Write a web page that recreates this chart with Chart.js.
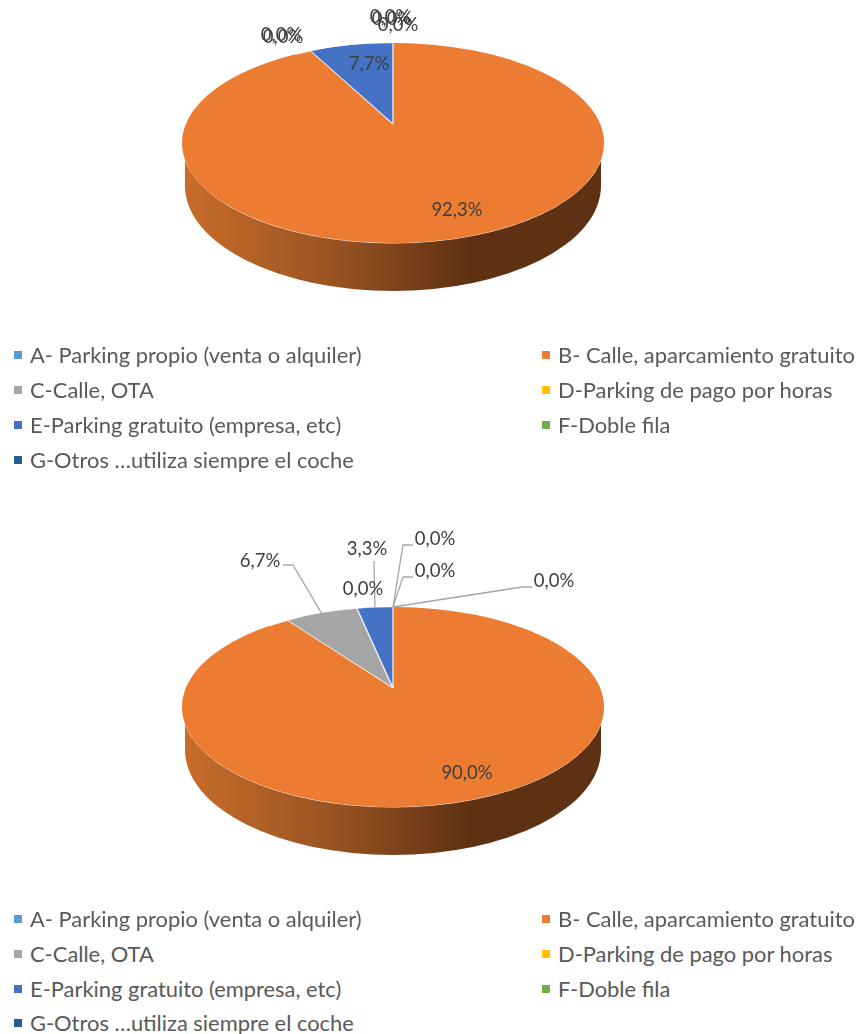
<!DOCTYPE html>
<html>
<head>
<meta charset="utf-8">
<title>Parking</title>
<script src="https://cdn.jsdelivr.net/npm/chart.js@4/dist/chart.umd.min.js"></script>
<style>
	html, body { margin: 0; padding: 0; background: #fff; }
	body { position: relative; width: 857px; height: 1034px; overflow: hidden; font-family: Lato, sans-serif; color: #595959; }
	canvas { position: absolute; left: 0; }
	#pie1 { top: 0; }
	#pie2 { top: 500px; }
	.legend-item { position: absolute; font-size: 21.9px; line-height: 24px; white-space: nowrap; }
	.legend-item i { position: absolute; left: -16px; top: 8px; width: 8px; height: 8px; }
</style>
</head>
<body>
<canvas id="pie1" width="857" height="420"></canvas>
<canvas id="pie2" width="857" height="420"></canvas>
<div id="legends"></div>
<script>
var categories = [
	'A- Parking propio (venta o alquiler)',
	'B- Calle, aparcamiento gratuito',
	'C-Calle, OTA',
	'D-Parking de pago por horas',
	'E-Parking gratuito (empresa, etc)',
	'F-Doble fila',
	'G-Otros \u2026utiliza siempre el coche'
];
var colors = ['#5b9bd5', '#eb7c31', '#a5a5a5', '#ffc000', '#4472c4', '#70ad47', '#255e91'];

var valuesTop = [0, 92.3, 0, 0, 7.7, 0, 0];
var valuesBottom = [0, 90.0, 6.7, 0, 3.3, 0, 0];

// posicion de las etiquetas respecto al centro de la elipse
var labelOffsetsTop = [[5, -118], [64, 67], [-112, -108], [-110, -106], [-24, -79], [-3, -126], [-1, -124]];
var labelOffsetsBottom = [[161, -126], [74, 66], [-133, -146], [-30, -118], [-26, -158], [42, -136], [42, -168]];

// codos de las lineas guia (solo el segundo grafico)
var leadersBottom = [
	[[129, -120], [139, -120]],
	null,
	[[-100, -142], [-110, -142]],
	null,
	[[-19, -146]],
	[[10, -130], [20, -130]],
	[[10, -162], [20, -162]]
];

// forma de la tarta en pantalla
var RADIUS = 100, RX = 211, RY = 100, PERSPECTIVE = -0.19;
var WALL_RX = 208, WALL_RY = 105, WALL_DY = 43;

// lleva un angulo del circulo al borde de la elipse con perspectiva
function project(angle, cx, cy) {
	var u = Math.cos(angle), v = Math.sin(angle);
	var den = 1 + PERSPECTIVE * v;
	return {
		x: cx + RX * u * Math.sqrt(1 - PERSPECTIVE * PERSPECTIVE) / den,
		y: cy + RY * (v + PERSPECTIVE) / den
	};
}

function wrapArc(arc) {
	if (arc._wrapped) {
		return;
	}
	arc._wrapped = true;
	var baseDraw = arc.draw;
	arc.draw = function(ctx, area) {
		var x0 = this.x, y0 = this.y, s = this.startAngle, e = this.endAngle;
		ctx.save();
		if (e - s > Math.PI) {
			// la porcion grande cubre toda la elipse
			ctx.transform(RX / RADIUS, 0, 0, RY / RADIUS, x0 - x0 * RX / RADIUS, y0 - y0 * RY / RADIUS);
		} else if (e - s > 0) {
			var ax = x0, ay = y0 + PERSPECTIVE * RY;
			var p = project(s, x0, y0), q = project(e, x0, y0);
			var px = Math.cos(s) * RADIUS, py = Math.sin(s) * RADIUS;
			var qx = Math.cos(e) * RADIUS, qy = Math.sin(e) * RADIUS;
			var det = px * qy - qx * py;
			var m11 = ((p.x - ax) * qy - (q.x - ax) * py) / det;
			var m12 = ((q.x - ax) * px - (p.x - ax) * qx) / det;
			var m21 = ((p.y - ay) * qy - (q.y - ay) * py) / det;
			var m22 = ((q.y - ay) * px - (p.y - ay) * qx) / det;
			ctx.transform(m11, m21, m12, m22, ax - m11 * x0 - m12 * y0, ay - m21 * x0 - m22 * y0);
		}
		baseDraw.call(this, ctx, area);
		ctx.restore();
	};
}

var pie3d = {
	id: 'pie3d',
	afterDatasetsUpdate: function(chart) {
		chart.getDatasetMeta(0).data.forEach(wrapArc);
	},
	beforeDatasetsDraw: function(chart) {
		var ctx = chart.ctx, arc = chart.getDatasetMeta(0).data[0];
		var cx = arc.x, cy = arc.y;
		var big = chart.data.datasets[0].backgroundColor[1];

		// pared lateral
		var wall = ctx.createLinearGradient(cx - RX, 0, cx + RX, 0);
		wall.addColorStop(0, '#c96d2b');
		wall.addColorStop(0.35, '#9a5422');
		wall.addColorStop(0.68, '#5f3113');
		wall.addColorStop(1, '#5f3113');
		ctx.save();
		ctx.fillStyle = wall;
		ctx.beginPath();
		ctx.moveTo(cx - WALL_RX, cy);
		ctx.lineTo(cx - WALL_RX, cy + WALL_DY);
		ctx.ellipse(cx, cy + WALL_DY, WALL_RX, WALL_RY, 0, Math.PI, 0, true);
		ctx.lineTo(cx + WALL_RX, cy);
		ctx.closePath();
		ctx.fill();

		// tapa
		ctx.fillStyle = big;
		ctx.strokeStyle = 'rgba(255,255,255,0.85)';
		ctx.lineWidth = 1;
		ctx.beginPath();
		ctx.ellipse(cx, cy, RX, RY, 0, 0, Math.PI * 2);
		ctx.fill();
		ctx.stroke();
		ctx.restore();
	},
	afterDatasetsDraw: function(chart, args, opts) {
		var ctx = chart.ctx, meta = chart.getDatasetMeta(0);
		var values = chart.data.datasets[0].data;
		var cx = meta.data[0].x, cy = meta.data[0].y;
		ctx.save();

		// lineas guia
		ctx.strokeStyle = '#a6a6a6';
		ctx.lineWidth = 1.3;
		(opts.leaders || []).forEach(function(points, i) {
			if (!points) {
				return;
			}
			var arc = meta.data[i];
			var start = project((arc.startAngle + arc.endAngle) / 2, cx, cy);
			ctx.beginPath();
			ctx.moveTo(start.x, start.y);
			points.forEach(function(pt) {
				ctx.lineTo(cx + pt[0], cy + pt[1]);
			});
			ctx.stroke();
		});

		// etiquetas
		ctx.fillStyle = '#404040';
		ctx.font = '18.5px Lato';
		ctx.textAlign = 'center';
		ctx.textBaseline = 'middle';
		values.forEach(function(v, i) {
			var text = v.toFixed(1).replace('.', ',') + '%';
			ctx.fillText(text, cx + opts.labels[i][0], cy + opts.labels[i][1]);
		});
		ctx.restore();
	}
};

function makePie(id, values, paddingBottom, labels, leaders) {
	return new Chart(document.getElementById(id), {
		type: 'pie',
		data: {
			labels: categories,
			datasets: [{
				data: values,
				backgroundColor: colors,
				borderColor: 'rgba(255,255,255,0.8)',
				borderWidth: values.map(function(v) { return v > 50 ? 0 : 0.8; }),
				clip: false
			}]
		},
		options: {
			responsive: false,
			animation: false,
			radius: RADIUS,
			layout: { padding: { right: 71, bottom: paddingBottom } },
			events: [],
			plugins: {
				legend: { display: false },
				tooltip: { enabled: false },
				pie3d: { labels: labels, leaders: leaders }
			}
		},
		plugins: [pie3d]
	});
}

makePie('pie1', valuesTop, 134, labelOffsetsTop, null);
makePie('pie2', valuesBottom, 6, labelOffsetsBottom, leadersBottom);

// leyendas en HTML, dos columnas
var legendRows = [343, 907];
var $legends = document.getElementById('legends');
legendRows.forEach(function(top) {
	categories.forEach(function(name, i) {
		var item = document.createElement('div');
		var row = Math.floor(i / 2);
		item.className = 'legend-item';
		item.style.left = (i % 2 ? 558 : 30) + 'px';
		item.style.top = (top + row * 35 - (top > 500 && row === 3 ? 1 : 0)) + 'px';
		item.textContent = name;
		var mark = document.createElement('i');
		mark.style.background = colors[i];
		item.appendChild(mark);
		$legends.appendChild(item);
	});
});
</script>
</body>
</html>
